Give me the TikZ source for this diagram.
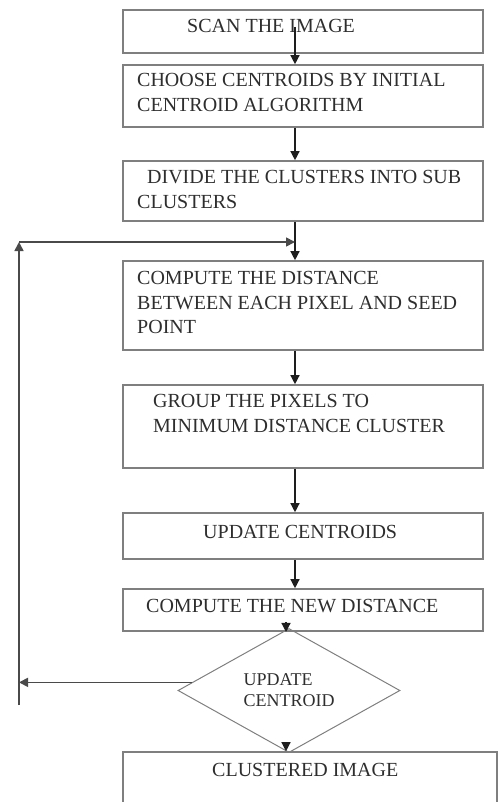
\documentclass[tikz,border=0pt]{standalone}
\usepackage{fontspec}
\setmainfont{Liberation Serif}
\usetikzlibrary{arrows.meta,shapes.geometric,calc}
\definecolor{boxgray}{HTML}{7F7F7F}
\definecolor{arrblack}{HTML}{1E1E1E}
\definecolor{loopgray}{HTML}{4A4A4A}
\definecolor{txtgray}{HTML}{2E2E2E}
\begin{document}
\begin{tikzpicture}[x=1pt,y=-1pt,
  boxstyle/.style={draw=boxgray,line width=1.6pt,inner sep=0pt,minimum width=360pt},
  txt/.style={inner sep=0pt,anchor=north west,align=left,text=txtgray,font=\fontsize{20}{24.5}\selectfont},
  arr/.style={draw=arrblack,line width=1.3pt,-{Triangle[length=9pt,width=9pt]}},
  looparr/.style={draw=loopgray,line width=1.7pt,-{Triangle[length=9pt,width=9pt]}},
  decision/.style={draw=boxgray,line width=1pt,shape=diamond,inner sep=0pt,minimum width=222pt,minimum height=93pt,align=left,text=txtgray,font=\fontsize{18}{21}\selectfont}]
\useasboundingbox (0,0) rectangle (499,802);
% boxes
\node[boxstyle,minimum height=43pt] (b1) at (303,31.5) {};
\node[boxstyle,minimum height=62pt] (b2) at (303,96) {};
\node[boxstyle,minimum height=60pt] (b3) at (303,191) {};
\node[boxstyle,minimum height=89pt] (b4) at (303,305.5) {};
\node[boxstyle,minimum height=83pt] (b5) at (303,426.5) {};
\node[boxstyle,minimum height=46pt] (b6) at (303,536) {};
\node[boxstyle,minimum height=42pt] (b7) at (303,610) {};
\node[boxstyle,minimum width=374pt,minimum height=78pt] (b8) at (310,791) {};
\node[decision] (d) at (289,690.5) {UPDATE\\CENTROID};
% texts
\node[txt] (t1) at (187,19.5) {SCAN THE IMAGE};
\node[txt] (t2) at (137,73.5) {CHOOSE CENTROIDS BY INITIAL\\CENTROID ALGORITHM};
\node[txt] (t3) at (137,170.5) {\hspace*{10pt}DIVIDE THE CLUSTERS INTO SUB\\CLUSTERS};
\node[txt] (t4) at (137,271.5) {COMPUTE THE DISTANCE\\BETWEEN EACH PIXEL AND SEED\\POINT};
\node[txt] (t5) at (153,394.5) {GROUP THE PIXELS TO\\MINIMUM DISTANCE CLUSTER};
\node[txt] (t6) at (203,525.5) {UPDATE CENTROIDS};
\node[txt] (t7) at (146,599.5) {COMPUTE THE NEW DISTANCE};
\node[txt] (t8) at (212,763.5) {CLUSTERED IMAGE};
% connectors
\coordinate (s1) at (295,27);
\coordinate (s7) at (286,622);
\coordinate (lt) at (19,242);
\coordinate (lb) at (19,705);
\coordinate (dl) at ($(d.west)!0.13!(d.north)$);
\draw[arr] (s1) -- (s1 |- b2.north);
\draw[arr] (b2.south -| s1) -- (b3.north -| s1);
\draw[arr] (b3.south -| s1) -- (b4.north -| s1);
\draw[arr] (b4.south -| s1) -- (b5.north -| s1);
\draw[arr] (b5.south -| s1) -- (b6.north -| s1);
\draw[arr] (b6.south -| s1) -- (b7.north -| s1);
\draw[arr] (s7) -- ($(s7 |- d.north)+(0,4)$);
\draw[arr] ($(d.south -| s7)+(0,-4)$) -- (s7 |- b8.north);
\draw[looparr] (dl) -- (dl -| lt);
\draw[looparr] (lb) -- (lt);
\draw[looparr] (lt) -- (lt -| s1);
\end{tikzpicture}
\end{document}
